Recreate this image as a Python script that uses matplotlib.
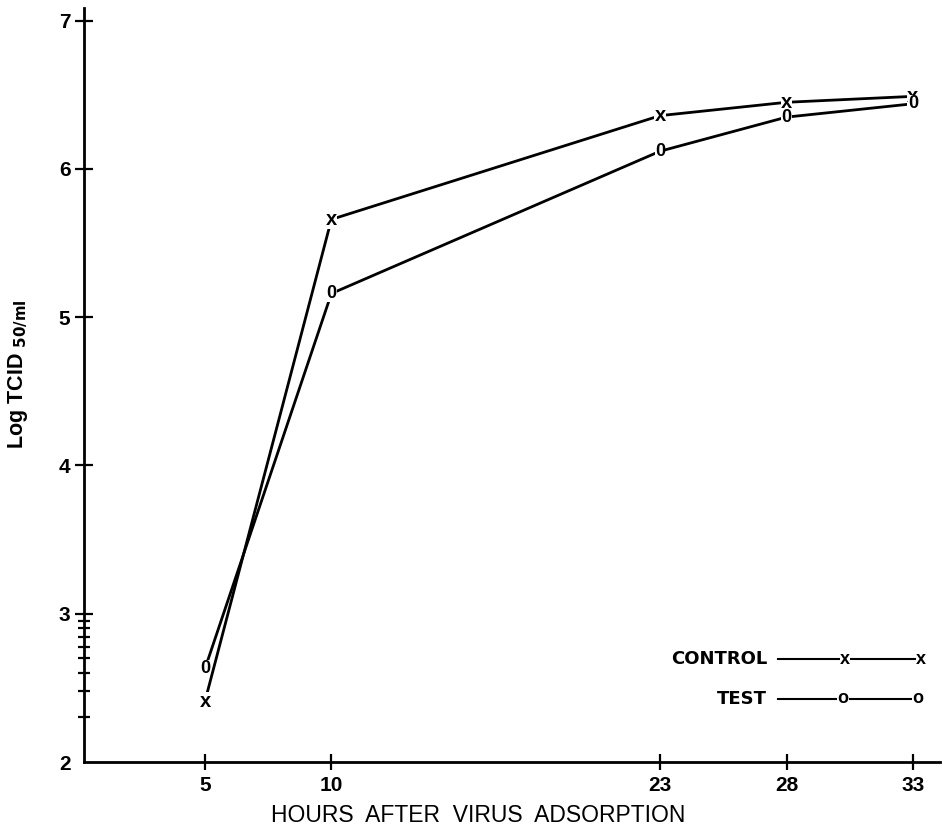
import numpy as np
import matplotlib
matplotlib.use("Agg")
import matplotlib.pyplot as plt

plt.rcParams['font.family'] = ['Liberation Sans', 'DejaVu Sans']

# Data
hours = [5, 10, 23, 28, 33]
control = [2.41, 5.66, 6.36, 6.45, 6.49]
test = [2.63, 5.16, 6.12, 6.35, 6.44]
x_ticks = [5, 10, 23, 28, 33]
x_tick_labels = ["5", "10", "23", "28", "33"]
y_ticks = [2, 3, 4, 5, 6, 7]
y_tick_labels = ["2", "3", "4", "5", "6", "7"]
y_minor = list(2 + np.log10(np.arange(2, 10)))

fig = plt.figure(figsize=(9.43, 8.34), dpi=100)
ax = fig.add_axes([84/943, 72/834, 856/943, 754/834])
ax.set_xlim(0.215, 34.07)
ax.set_ylim(2, 7.086)

for s in ['top', 'right']:
    ax.spines[s].set_visible(False)
for s in ['left', 'bottom']:
    ax.spines[s].set_linewidth(2.0)

ax.set_xticks(x_ticks)
ax.set_xticklabels(x_tick_labels)
ax.set_yticks(y_ticks)
ax.set_yticklabels(y_tick_labels)
ax.set_yticks(y_minor, minor=True)
ax.tick_params(axis='x', direction='inout', length=12, width=1.6, pad=4,
               labelsize=15)
ax.tick_params(axis='y', which='major', direction='inout', length=13.5,
               width=1.6, pad=3, labelsize=15)
ax.tick_params(axis='y', which='minor', direction='inout', length=8.5,
               width=1.6)
for lab in ax.get_xticklabels() + ax.get_yticklabels():
    lab.set_fontweight('bold')
ax.yaxis.get_major_ticks()[0].tick1line.set_visible(False)

# Lines
ax.plot(hours, control, color='black', lw=2.0, zorder=2)
ax.plot(hours, test, color='black', lw=2.0, zorder=2)

bb = dict(facecolor='white', edgecolor='none', pad=0.1)
for xv, yv in zip(hours, control):
    ax.text(xv, yv, 'x', ha='center', va='center', fontsize=14.5,
            fontweight='bold', bbox=bb, zorder=3)
for xv, yv in zip(hours, test):
    ax.text(xv, yv, '0', ha='center', va='center', fontsize=13,
            fontweight='bold', bbox=bb, zorder=3)

# Legend (drawn manually)
lfont = dict(family='DejaVu Sans', fontsize=13, fontweight='bold')
ax.text(0.798, 0.1366, 'CONTROL', transform=ax.transAxes, ha='right',
        va='center', **lfont)
ax.text(0.798, 0.0836, 'TEST', transform=ax.transAxes, ha='right',
        va='center', **lfont)
ax.plot([0.8107, 0.978], [0.1366, 0.1366], transform=ax.transAxes,
        color='black', lw=1.5, clip_on=False)
ax.plot([0.8107, 0.9743], [0.0836, 0.0836], transform=ax.transAxes,
        color='black', lw=1.5, clip_on=False)
for xx in [0.889, 0.978]:
    ax.text(xx, 0.1366, 'x', transform=ax.transAxes, ha='center',
            va='center', fontsize=13, fontweight='bold', bbox=bb)
for xx in [0.8867, 0.9743]:
    ax.text(xx, 0.0836, 'o', transform=ax.transAxes, ha='center',
            va='center', fontsize=13, fontweight='bold', bbox=bb)

# Axis labels
fig.text(478/943, 1 - 815/834, 'HOURS  AFTER  VIRUS  ADSORPTION',
         ha='center', va='center', fontsize=16.5)
fig.text(18/943, 1 - 374/834, r'Log TCID $_{\mathbf{50/ml}}$',
         rotation=90, ha='center', va='center', fontsize=15.5,
         fontweight='bold')

fig.savefig('out.png', dpi=100, facecolor='white')
